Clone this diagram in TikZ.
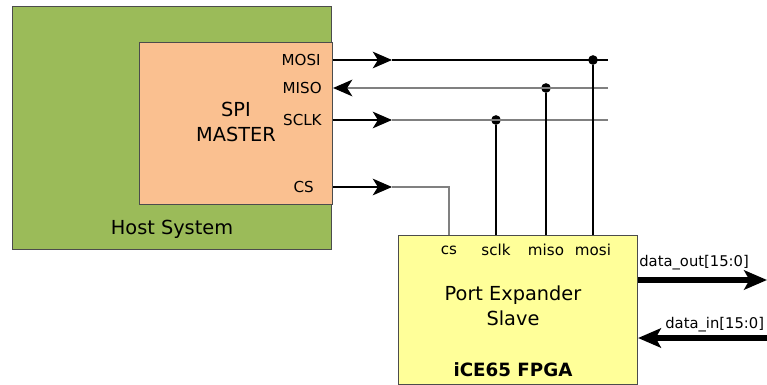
\documentclass[tikz,border=0pt]{standalone}
\usepackage{fontspec}
\setmainfont{DejaVu Sans}
\usetikzlibrary{positioning,calc,arrows.meta}

\definecolor{hostgreen}{HTML}{9BBB59}
\definecolor{masterorange}{HTML}{FAC090}
\definecolor{fpgayellow}{HTML}{FFFF99}
\definecolor{wiregray}{HTML}{808080}

\begin{document}
\begin{tikzpicture}[x=0.02cm, y=-0.02cm,
        hostbox/.style={draw=black!70, fill=hostgreen, line width=0.6pt},
        masterbox/.style={draw=black!70, fill=masterorange, line width=0.6pt},
        fpgabox/.style={draw=black!70, fill=fpgayellow, line width=0.6pt},
        bigtext/.style={font=\fontsize{11}{14}\selectfont, align=center, inner sep=0pt},
        pinlbl/.style={font=\fontsize{8.6}{10}\selectfont, inner sep=0pt},
        buslbl/.style={font=\fontsize{8.4}{10}\selectfont, inner sep=0pt},
        sig/.style={line width=0.6pt, black},
        graysig/.style={line width=0.9pt, wiregray},
        tip/.style={-{Stealth[length=11pt, width=9.5pt, inset=3pt, color=black]}},
        bus/.style={line width=3.4pt, -{Stealth[length=13pt, width=11pt, inset=3pt]}},
        junction/.style={circle, fill=black, inner sep=0pt, minimum size=5.5pt}
    ]

    \useasboundingbox (0,0) rectangle (767,385);

    % Host and master boxes
    \node[hostbox, minimum width=319*0.02cm, minimum height=243*0.02cm, anchor=north west] (host) at (12,6) {};
    \node[masterbox, minimum width=193*0.02cm, minimum height=162*0.02cm, anchor=north west] (master) at (139,42) {};
    \node[bigtext] (hostlbl) at (172,229) {Host System};
    \node[bigtext] (masterlbl) at (236,122) {SPI\\MASTER};

    % Master pins
    \node[pinlbl, anchor=east] (MOSI) at (321,60) {MOSI};
    \node[pinlbl, anchor=east] (MISO) at (322,88) {MISO};
    \node[pinlbl, anchor=east] (SCLK) at (322,120) {SCLK};
    \node[pinlbl, anchor=east] (CS) at (314,187) {CS};

    % FPGA box
    \node[fpgabox, minimum width=239*0.02cm, minimum height=149*0.02cm, anchor=north west] (fpga) at (398,235) {};
    \node[pinlbl] (cs) at (449,250) {cs};
    \node[pinlbl] (sclk) at (496,250) {sclk};
    \node[pinlbl] (miso) at (546,250) {miso};
    \node[pinlbl] (mosi) at (593,250) {mosi};
    \node[bigtext] (fpgalbl) at (513,306) {Port Expander\\Slave};
    \node[bigtext, font=\fontsize{10.4}{14}\selectfont\bfseries] (chip) at (513,370) {iCE65 FPGA};

    % Wire points
    \coordinate (mosiS) at (master.east |- MOSI);
    \coordinate (misoS) at (master.east |- MISO);
    \coordinate (sclkS) at (master.east |- SCLK);
    \coordinate (csS) at (master.east |- CS);
    \coordinate (mosiA) at (392,60);
    \coordinate (sclkA) at (392,120);
    \coordinate (csA) at (392,187);
    \coordinate (mosiE) at (608,60);
    \coordinate (misoE) at (608,88);
    \coordinate (sclkE) at (608,120);
    \node[junction] (mosiJ) at (593,60) {};
    \node[junction] (misoJ) at (546,88) {};
    \node[junction] (sclkJ) at (496,120) {};

    % SPI bus
    \draw[sig, tip] (mosiS) -- (mosiA);
    \draw[sig] (mosiA) -- (mosiE);
    \draw[graysig, tip] (misoE) -- (misoS);
    \draw[sig, tip] (sclkS) -- (sclkA);
    \draw[graysig] (sclkA) -- (sclkE);
    \draw[sig, tip] (csS) -- (csA);
    \draw[graysig] (csA) -| (fpga.north -| cs);
    \draw[sig] (sclkJ) -- (fpga.north -| sclkJ);
    \draw[sig] (misoJ) -- (fpga.north -| misoJ);
    \draw[sig] (mosiJ) -- (fpga.north -| mosiJ);

    % Data ports
    \coordinate (outE) at (767,280);
    \coordinate (inE) at (767,338);
    \draw[bus] (fpga.east |- outE) -- (outE);
    \draw[bus] (inE) -- (fpga.east |- inE);
    \node[buslbl, anchor=west] (doutlbl) at (639,263) {data\_out[15:0]};
    \node[buslbl, anchor=west] (dinlbl) at (665,325) {data\_in[15:0]};

\end{tikzpicture}
\end{document}
